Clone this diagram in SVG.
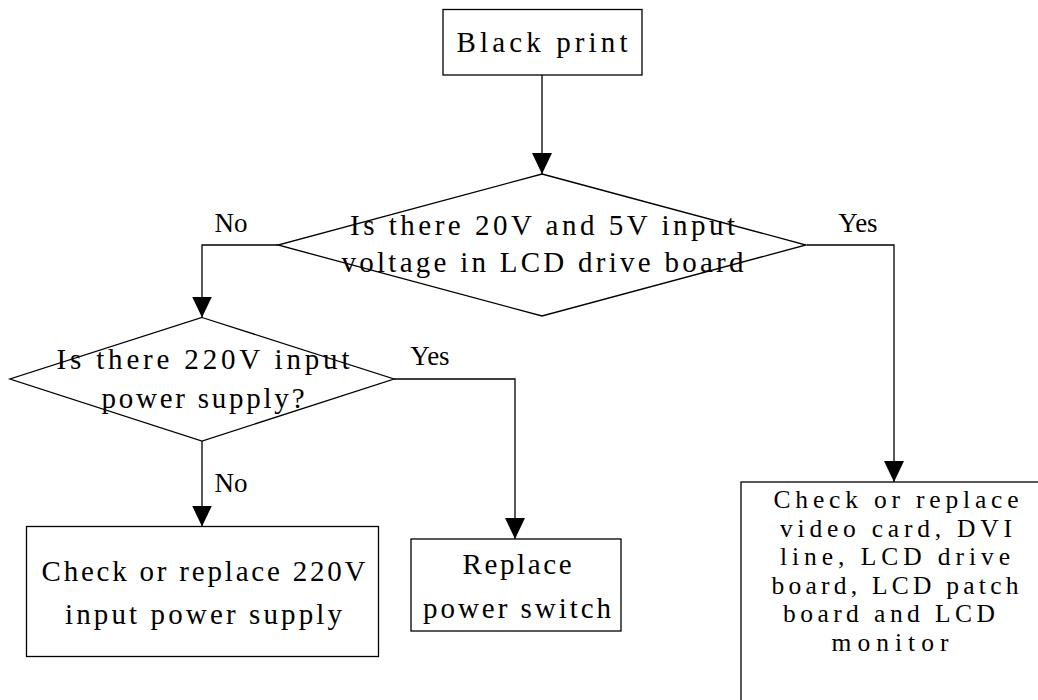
<svg xmlns="http://www.w3.org/2000/svg" width="1038" height="700" viewBox="0 0 1038 700">
<style>
.s{fill:#fff;stroke:#000;stroke-width:1.3}
.t{font-family:"Liberation Serif","DejaVu Serif",serif;font-size:29px;fill:#000;text-anchor:middle}
.r{font-size:25.5px}
.l{font-size:27px}
.c{fill:none;stroke:#000;stroke-width:1.3}
</style>
<defs>
<marker id="ah" markerUnits="userSpaceOnUse" markerWidth="21" markerHeight="20" refX="21" refY="10" orient="auto">
<path d="M0,0 L21,10 L0,20 z" fill="#000"/>
</marker>
</defs>
<rect width="1038" height="700" fill="#fff"/>
<g id="connectors">
<path class="c" d="M542,75 V174" marker-end="url(#ah)"/>
<path class="c" d="M278,245 H202 V317.5" marker-end="url(#ah)"/>
<path class="c" d="M807,245 H894 V482" marker-end="url(#ah)"/>
<path class="c" d="M394,379 H515 V539" marker-end="url(#ah)"/>
<path class="c" d="M202,441 V526.5" marker-end="url(#ah)"/>
</g>
<g id="n1">
<rect class="s" x="443" y="9.5" width="199" height="65.5"/>
<text class="t" x="542" y="52" textLength="171" lengthAdjust="spacing">Black print</text>
</g>
<g id="n2">
<polygon class="s" points="542,174 806,245 542,316 278,245" fill-opacity="0"/>
<text class="t" x="542.5" y="235" textLength="385" lengthAdjust="spacing">Is there 20V and 5V input</text>
<text class="t" x="542.5" y="272" textLength="402" lengthAdjust="spacing">voltage in LCD drive board</text>
</g>
<g id="n3">
<polygon class="s" points="202,317.5 394,379 202,441 10,379" fill-opacity="0"/>
<text class="t" x="203" y="369" textLength="293" lengthAdjust="spacing">Is there 220V input</text>
<text class="t" x="203" y="408" textLength="203" lengthAdjust="spacing">power supply?</text>
</g>
<g id="n4">
<rect class="s" x="26.5" y="526.5" width="352" height="130"/>
<text class="t" x="203.5" y="580.5" textLength="324" lengthAdjust="spacing">Check or replace 220V</text>
<text class="t" x="203.5" y="624" textLength="277" lengthAdjust="spacing">input power supply</text>
</g>
<g id="n5">
<rect class="s" x="411" y="539" width="210" height="92"/>
<text class="t" x="517" y="573.5" textLength="109" lengthAdjust="spacing">Replace</text>
<text class="t" x="517" y="618" textLength="188" lengthAdjust="spacing">power switch</text>
</g>
<g id="n6">
<rect class="s" x="741" y="482" width="308" height="260"/>
<text class="t r" x="896" y="508" textLength="245" lengthAdjust="spacing">Check or replace</text>
<text class="t r" x="896" y="536.5" textLength="232" lengthAdjust="spacing">video card, DVI</text>
<text class="t r" x="895" y="565" textLength="230" lengthAdjust="spacing">line, LCD drive</text>
<text class="t r" x="895" y="593.5" textLength="247" lengthAdjust="spacing">board, LCD patch</text>
<text class="t r" x="889" y="622" textLength="212" lengthAdjust="spacing">board and LCD</text>
<text class="t r" x="890" y="650.5" textLength="117" lengthAdjust="spacing">monitor</text>
</g>
<g id="labels">
<text class="t l" x="231" y="232">No</text>
<text class="t l" x="858" y="232">Yes</text>
<text class="t l" x="430" y="364.5">Yes</text>
<text class="t l" x="231" y="491.5">No</text>
</g>
</svg>
